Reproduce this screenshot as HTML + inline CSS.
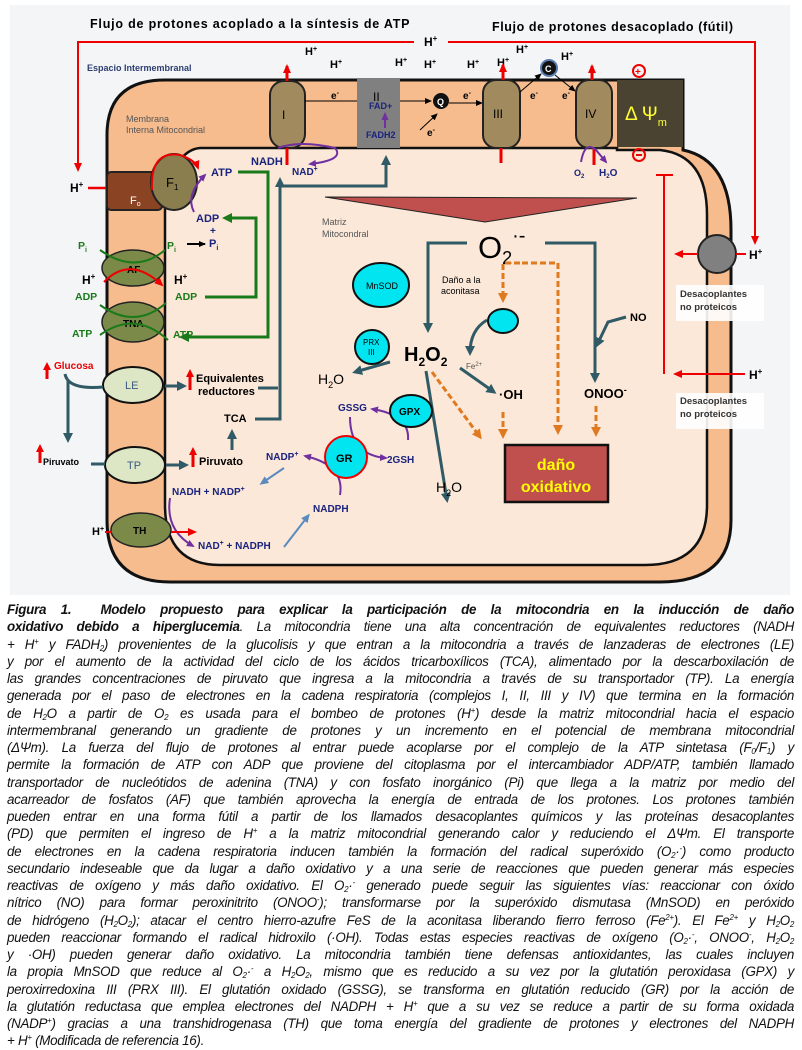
<!DOCTYPE html>
<html><head><meta charset="utf-8"><style>
html,body{margin:0;padding:0;background:#fff;width:802px;height:1042px;overflow:hidden}
svg{position:absolute;left:0;top:0}
svg text{font-family:"Liberation Sans",sans-serif}
.cap{position:absolute;left:7px;top:601px;width:787px;font-family:"Liberation Sans",sans-serif;font-size:13.4px;line-height:17.25px;font-style:italic;color:#111;letter-spacing:-0.3px}
.cap div{text-align:justify;text-align-last:justify;white-space:nowrap;height:17.25px}
.cap div.last{text-align-last:left}
.cap b{font-weight:bold}
sub{font-size:8px;vertical-align:-2px;line-height:0}
sup{font-size:8px;vertical-align:5px;line-height:0}
</style></head><body>
<svg width="802" height="598" viewBox="0 0 802 598">
<defs>
<marker id="ar" markerWidth="9" markerHeight="8" refX="7" refY="4" orient="auto" markerUnits="userSpaceOnUse"><path d="M0,0 L9,4 L0,8z" fill="#e00"/></marker>
<marker id="at" markerWidth="10" markerHeight="10" refX="7" refY="5" orient="auto" markerUnits="userSpaceOnUse"><path d="M0,0 L10,5 L0,10z" fill="#2f5a66"/></marker>
<marker id="ag" markerWidth="10" markerHeight="10" refX="7" refY="5" orient="auto" markerUnits="userSpaceOnUse"><path d="M0,0 L10,5 L0,10z" fill="#1a7a1a"/></marker>
<marker id="ap" markerWidth="8" markerHeight="7" refX="6" refY="3.5" orient="auto" markerUnits="userSpaceOnUse"><path d="M0,0 L8,3.5 L0,7z" fill="#7030a0"/></marker>
<marker id="ao" markerWidth="10" markerHeight="10" refX="7" refY="5" orient="auto" markerUnits="userSpaceOnUse"><path d="M0,0 L10,5 L0,10z" fill="#e07a20"/></marker>
<marker id="ab" markerWidth="9" markerHeight="8" refX="6" refY="4" orient="auto" markerUnits="userSpaceOnUse"><path d="M0,0 L9,4 L0,8z" fill="#5a8ac0"/></marker>
<marker id="ak" markerWidth="7" markerHeight="6" refX="6" refY="3" orient="auto" markerUnits="userSpaceOnUse"><path d="M0,0 L7,3 L0,6z" fill="#000"/></marker>
</defs>
<rect x="10" y="5" width="780" height="590" fill="#f4f5f7"/>
<path d="M107,135 Q107,80 165,80 L683,80 L683,150 Q731,160 731,230 L731,520 Q731,582 660,582 L170,582 Q107,582 107,520 Z" fill="#f6bc8e" stroke="#111" stroke-width="3"/>
<path d="M200,148 L617,148 L617,150 L660,150 Q707,155 707,215 L707,505 Q707,565 645,565 L220,565 Q165,565 165,505 L165,210 L165,200 Q175,150 200,148 Z" fill="#fbe8d8" stroke="#111" stroke-width="2.5"/>
<text x="90" y="28" font-size="12.5" font-weight="bold" letter-spacing="0.8">Flujo de protones acoplado a la síntesis de ATP</text>
<text x="492" y="31" font-size="12.5" font-weight="bold" letter-spacing="0.6">Flujo de protones desacoplado (fútil)</text>
<text x="87" y="71" font-size="9" font-weight="bold" fill="#2c3e70">Espacio Intermembranal</text>
<text x="126" y="122" font-size="9" fill="#555">Membrana</text>
<text x="126" y="133" font-size="9" fill="#555">Interna Mitocondrial</text>
<text x="322" y="225" font-size="9" fill="#555">Matriz</text>
<text x="322" y="237" font-size="9" fill="#555">Mitocondral</text>
<path d="M448,42 L755,42 L755,243" fill="none" stroke="#e00" stroke-width="2" marker-end="url(#ar)"/>
<path d="M414,42 L78,42 L78,170" fill="none" stroke="#e00" stroke-width="2" marker-end="url(#ar)"/>
<text x="424" y="46" font-size="12" font-weight="bold">H<tspan font-size="8" dy="-5">+</tspan></text>
<text x="70" y="192" font-size="12" font-weight="bold">H<tspan font-size="8" dy="-5">+</tspan></text>
<line x1="88" y1="188" x2="155" y2="188" stroke="#e00" stroke-width="2.5"/>
<g font-size="11" font-weight="bold">
<text x="305" y="55">H<tspan font-size="7" dy="-4">+</tspan></text>
<text x="330" y="68">H<tspan font-size="7" dy="-4">+</tspan></text>
<text x="395" y="66">H<tspan font-size="7" dy="-4">+</tspan></text>
<text x="424" y="68">H<tspan font-size="7" dy="-4">+</tspan></text>
<text x="467" y="68">H<tspan font-size="7" dy="-4">+</tspan></text>
<text x="497" y="66">H<tspan font-size="7" dy="-4">+</tspan></text>
<text x="516" y="53">H<tspan font-size="7" dy="-4">+</tspan></text>
<text x="561" y="60">H<tspan font-size="7" dy="-4">+</tspan></text>
</g>
<rect x="107" y="172" width="55" height="38" rx="4" fill="#8b4423" stroke="#222" stroke-width="2"/>
<text x="130" y="204" font-size="11" fill="#fff">F<tspan font-size="7" dy="2">o</tspan></text>
<ellipse cx="174" cy="182" rx="23" ry="28" fill="#8a7d4e" stroke="#222" stroke-width="2"/>
<text x="166" y="187" font-size="13">F<tspan font-size="8" dy="3">1</tspan></text>
<path d="M152,190 Q150,150 180,155 Q195,160 198,168" fill="none" stroke="#e00" stroke-width="2" marker-end="url(#ar)"/>
<path d="M194,212 Q185,195 205,175" fill="none" stroke="#7030a0" stroke-width="2" marker-end="url(#ap)"/>
<rect x="270" y="81" width="35" height="67" rx="14" fill="#a08a5e" stroke="#222" stroke-width="2"/>
<text x="282" y="119" font-size="12">I</text>
<rect x="357" y="78" width="43" height="70" fill="#808080"/>
<text x="373" y="101" font-size="12">II</text>
<text x="369" y="109" font-size="9" font-weight="bold" fill="#1a237e">FAD+</text>
<text x="366" y="138" font-size="9" font-weight="bold" fill="#1a237e">FADH2</text>
<line x1="385" y1="128" x2="385" y2="114" stroke="#7030a0" stroke-width="2" marker-end="url(#ap)"/>
<line x1="305" y1="101" x2="357" y2="101" stroke="#000" stroke-width="1"/>
<text x="331" y="99" font-size="10" font-weight="bold">e<tspan font-size="7" dy="-4">-</tspan></text>
<line x1="400" y1="101" x2="431" y2="101" stroke="#000" stroke-width="1" marker-end="url(#ak)"/>
<circle cx="441" cy="101" r="8" fill="#111"/><text x="437" y="105" font-size="9" font-weight="bold" fill="#fff">Q</text>
<line x1="420" y1="130" x2="437" y2="114" stroke="#000" stroke-width="1" marker-end="url(#ak)"/>
<text x="427" y="136" font-size="10" font-weight="bold">e<tspan font-size="7" dy="-4">-</tspan></text>
<line x1="449" y1="103" x2="482" y2="103" stroke="#000" stroke-width="1" marker-end="url(#ak)"/>
<text x="463" y="99" font-size="10" font-weight="bold">e<tspan font-size="7" dy="-4">-</tspan></text>
<rect x="483" y="80" width="37" height="68" rx="13" fill="#a08a5e" stroke="#222" stroke-width="2"/>
<text x="493" y="118" font-size="12">III</text>
<line x1="520" y1="92" x2="541" y2="74" stroke="#000" stroke-width="1" marker-end="url(#ak)"/>
<circle cx="549" cy="68" r="8" fill="#111" stroke="#5a7ab0" stroke-width="2"/><text x="545" y="72" font-size="9" font-weight="bold" fill="#fff">C</text>
<line x1="555" y1="75" x2="575" y2="91" stroke="#000" stroke-width="1" marker-end="url(#ak)"/>
<text x="530" y="99" font-size="10" font-weight="bold">e<tspan font-size="7" dy="-4">-</tspan></text>
<text x="562" y="99" font-size="10" font-weight="bold">e<tspan font-size="7" dy="-4">-</tspan></text>
<rect x="576" y="80" width="36" height="68" rx="13" fill="#a08a5e" stroke="#222" stroke-width="2"/>
<text x="585" y="118" font-size="12">IV</text>
<rect x="617" y="80" width="66" height="67" fill="#4a4331"/>
<text x="625" y="120" font-size="19" fill="#ffff33">Δ Ψ<tspan font-size="11" dy="6">m</tspan></text>
<circle cx="639" cy="71" r="6" fill="none" stroke="#e00" stroke-width="2"/><text x="635" y="75" font-size="10" font-weight="bold" fill="#e00">+</text>
<circle cx="639" cy="155" r="6" fill="none" stroke="#e00" stroke-width="2"/><line x1="636" y1="155" x2="642" y2="155" stroke="#e00" stroke-width="2"/>
<g stroke="#e00" stroke-width="3" fill="none">
<line x1="287" y1="81" x2="287" y2="66" marker-end="url(#ar)"/>
<line x1="503" y1="80" x2="503" y2="65" marker-end="url(#ar)"/>
<line x1="592" y1="80" x2="592" y2="66" marker-end="url(#ar)"/>
<line x1="287" y1="148" x2="287" y2="165"/>
<line x1="501" y1="148" x2="501" y2="163"/>
<line x1="594" y1="148" x2="594" y2="165"/>
</g>
<path d="M278,148 Q300,140 335,148 Q345,160 310,164" fill="none" stroke="#7030a0" stroke-width="2" marker-end="url(#ap)"/>
<text x="251" y="165" font-size="11" font-weight="bold" fill="#1a237e">NADH</text>
<text x="292" y="175" font-size="10" font-weight="bold" fill="#1a237e">NAD<tspan font-size="7" dy="-4">+</tspan></text>
<path d="M581,162 Q585,140 596,150 L606,162" fill="none" stroke="#7030a0" stroke-width="2" marker-end="url(#ap)"/>
<text x="574" y="176" font-size="9" font-weight="bold" fill="#1a237e">O<tspan font-size="6" dy="2">2</tspan></text>
<text x="599" y="176" font-size="10" font-weight="bold" fill="#1a237e">H<tspan font-size="6" dy="2">2</tspan><tspan dy="-2">O</tspan></text>
<text x="211" y="176" font-size="11" font-weight="bold" fill="#1a237e">ATP</text>
<text x="196" y="222" font-size="11" font-weight="bold" fill="#1a237e">ADP</text>
<text x="210" y="234" font-size="10" font-weight="bold" fill="#1a237e">+</text>
<text x="209" y="247" font-size="11" font-weight="bold" fill="#1a237e">P<tspan font-size="7" dy="3">i</tspan></text>
<line x1="187" y1="244" x2="205" y2="244" stroke="#000" stroke-width="2" marker-end="url(#ak)"/>
<g fill="none" stroke="#1a7a1a" stroke-width="3">
<path d="M238,172 L268,172 L268,337 L182,337" marker-end="url(#ag)"/>
<path d="M205,297 L256,297 L256,218 L225,218" marker-end="url(#ag)"/>
</g>
<g font-size="10.5" font-weight="bold" fill="#1a7a1a">
<text x="78" y="249">P<tspan font-size="7" dy="3">i</tspan></text>
<text x="167" y="249">P<tspan font-size="7" dy="3">i</tspan></text>
<text x="75" y="300">ADP</text>
<text x="175" y="300">ADP</text>
<text x="72" y="337">ATP</text>
<text x="173" y="338">ATP</text>
</g>
<text x="82" y="284" font-size="12" font-weight="bold">H<tspan font-size="8" dy="-5">+</tspan></text>
<text x="174" y="284" font-size="12" font-weight="bold">H<tspan font-size="8" dy="-5">+</tspan></text>
<ellipse cx="133" cy="268" rx="31" ry="18" fill="#7b8a48" stroke="#222" stroke-width="1.5"/>
<text x="127" y="273" font-size="10" font-weight="bold">AF</text>
<ellipse cx="133" cy="322" rx="31" ry="20" fill="#7b8a48" stroke="#222" stroke-width="1.5"/>
<text x="123" y="327" font-size="10" font-weight="bold">TNA</text>
<g fill="none" stroke="#1a7a1a" stroke-width="2">
<path d="M100,250 Q135,275 165,250"/>
<path d="M100,305 Q135,330 166,303"/>
<path d="M100,335 Q135,310 168,340"/>
</g>
<path d="M104,282 Q130,255 162,285" fill="none" stroke="#e00" stroke-width="2" marker-end="url(#ar)"/>
<ellipse cx="133" cy="385" rx="30" ry="18" fill="#dde7c6" stroke="#111" stroke-width="2"/>
<text x="125" y="389" font-size="11" fill="#3a5a80">LE</text>
<ellipse cx="135" cy="465" rx="30" ry="18" fill="#dde7c6" stroke="#111" stroke-width="2"/>
<text x="127" y="469" font-size="11" fill="#3a5a80">TP</text>
<ellipse cx="141" cy="530" rx="30" ry="17" fill="#7b8a48" stroke="#222" stroke-width="1.5"/>
<text x="133" y="534" font-size="10" font-weight="bold">TH</text>
<g fill="#e00"><path d="M43,370 L47,362 L51,370 Z"/><rect x="45.5" y="369" width="3" height="10"/>
<path d="M36,452 L40,444 L44,452 Z"/><rect x="38.5" y="451" width="3" height="12"/>
<path d="M186,377 L190,369 L194,377 Z"/><rect x="188.5" y="376" width="3" height="14"/>
<path d="M189,455 L193,447 L197,455 Z"/><rect x="191.5" y="454" width="3" height="13"/></g>
<text x="54" y="369" font-size="10" font-weight="bold" fill="#e00">Glucosa</text>
<text x="43" y="465" font-size="9" font-weight="bold">Piruvato</text>
<text x="196" y="382" font-size="11" font-weight="bold">Equivalentes</text>
<text x="198" y="395" font-size="11" font-weight="bold">reductores</text>
<text x="199" y="465" font-size="11" font-weight="bold">Piruvato</text>
<text x="224" y="422" font-size="11" font-weight="bold">TCA</text>
<g fill="none" stroke="#2f5a66" stroke-width="3">
<path d="M65,374 Q68,390 103,387"/>
<path d="M68,380 L68,440" marker-end="url(#at)"/>
<line x1="91" y1="464" x2="105" y2="464"/>
<line x1="165" y1="386" x2="184" y2="386" marker-end="url(#at)"/>
<line x1="166" y1="465" x2="186" y2="465" marker-end="url(#at)"/>
<line x1="232" y1="450" x2="232" y2="432" marker-end="url(#at)"/>
<path d="M258,388 L278,388"/>
<path d="M255,419 L280,419 L280,180" marker-end="url(#at)"/>
<path d="M280,186 L386,186 L386,158" marker-end="url(#at)"/>
</g>
<path d="M325,197 L637,198 L485,222 Z" fill="#c0504d" stroke="#222" stroke-width="1"/>
<text x="478" y="258" font-size="31">O<tspan font-size="18" dy="6">2</tspan><tspan font-size="20" dy="-22">·-</tspan></text>
<g fill="none" stroke="#2f5a66" stroke-width="3">
<path d="M467,243 L428,243 L428,330" marker-end="url(#at)"/>
<path d="M545,243 L595,243 L595,380" marker-end="url(#at)"/>
<path d="M626,317 L608,322 L597,345" marker-end="url(#at)"/>
<path d="M487,320 Q470,330 470,353" marker-end="url(#at)"/>
<path d="M460,368 L494,392" marker-end="url(#at)"/>
<path d="M390,362 L355,372" marker-end="url(#at)"/>
<path d="M426,371 L447,500" marker-end="url(#at)"/>
</g>
<g fill="none" stroke="#e07a20" stroke-width="3" stroke-dasharray="6,3">
<path d="M522,263 L558,263 L558,432" marker-end="url(#ao)"/>
<path d="M520,263 L503,263 L503,300" marker-end="url(#ao)"/>
<line x1="503" y1="412" x2="503" y2="436" marker-end="url(#ao)"/>
<line x1="596" y1="406" x2="596" y2="434" marker-end="url(#ao)"/>
<line x1="432" y1="372" x2="480" y2="437" marker-end="url(#ao)"/>
</g>
<text x="442" y="283" font-size="9">Daño a la</text>
<text x="441" y="294" font-size="9">aconitasa</text>
<text x="630" y="321" font-size="11" font-weight="bold">NO</text>
<ellipse cx="503" cy="321" rx="15" ry="12" fill="#00e5f0" stroke="#111" stroke-width="2"/>
<text x="466" y="369" font-size="8" fill="#555">Fe<tspan font-size="6" dy="-3">2+</tspan></text>
<text x="499" y="399" font-size="13" font-weight="bold">·OH</text>
<text x="584" y="398" font-size="13" font-weight="bold">ONOO<tspan font-size="9" dy="-5">-</tspan></text>
<text x="404" y="361" font-size="20" font-weight="bold">H<tspan font-size="12" dy="5">2</tspan><tspan dy="-5">O</tspan><tspan font-size="12" dy="5">2</tspan></text>
<text x="318" y="384" font-size="14">H<tspan font-size="9" dy="4">2</tspan><tspan dy="-4">O</tspan></text>
<text x="436" y="492" font-size="14">H<tspan font-size="9" dy="4">2</tspan><tspan dy="-4">O</tspan></text>
<rect x="505" y="445" width="103" height="57" fill="#c0504d" stroke="#111" stroke-width="2.5"/>
<text x="556" y="470" font-size="16" font-weight="bold" fill="#ffff00" text-anchor="middle">daño</text>
<text x="556" y="492" font-size="16" font-weight="bold" fill="#ffff00" text-anchor="middle">oxidativo</text>
<ellipse cx="381" cy="285" rx="28" ry="22" fill="#00e5f0" stroke="#111" stroke-width="2"/>
<text x="366" y="289" font-size="9">MnSOD</text>
<circle cx="372" cy="347" r="17" fill="#00e5f0" stroke="#111" stroke-width="2"/>
<text x="363" y="345" font-size="8">PRX</text><text x="368" y="355" font-size="8">III</text>
<path d="M408,440 Q410,415 372,409" fill="none" stroke="#7030a0" stroke-width="2" marker-end="url(#ap)"/>
<ellipse cx="411" cy="411" rx="21" ry="16" fill="#00e5f0" stroke="#111" stroke-width="2"/>
<text x="399" y="415" font-size="10" font-weight="bold">GPX</text>
<path d="M350,417 Q350,455 386,458" fill="none" stroke="#7030a0" stroke-width="2" marker-end="url(#ap)"/>
<path d="M340,495 Q345,465 305,456" fill="none" stroke="#7030a0" stroke-width="2" marker-end="url(#ap)"/>
<circle cx="346" cy="457" r="21" fill="#00e5f0" stroke="#e00" stroke-width="2"/>
<text x="336" y="462" font-size="11" font-weight="bold">GR</text>
<g font-size="10" font-weight="bold" fill="#1a237e">
<text x="338" y="411">GSSG</text>
<text x="387" y="463">2GSH</text>
<text x="266" y="460">NADP<tspan font-size="7" dy="-4">+</tspan></text>
<text x="313" y="512">NADPH</text>
<text x="172" y="495">NADH + NADP<tspan font-size="7" dy="-4">+</tspan></text>
<text x="198" y="549">NAD<tspan font-size="7" dy="-4">+</tspan><tspan dy="4"> + NADPH</tspan></text>
</g>
<line x1="284" y1="468" x2="262" y2="483" stroke="#5a8ac0" stroke-width="2" marker-end="url(#ab)"/>
<line x1="284" y1="547" x2="308" y2="516" stroke="#5a8ac0" stroke-width="2" marker-end="url(#ab)"/>
<path d="M170,498 Q165,530 193,546" fill="none" stroke="#7030a0" stroke-width="2" marker-end="url(#ap)"/>
<line x1="105" y1="532" x2="112" y2="532" stroke="#e00" stroke-width="2"/>
<line x1="171" y1="532" x2="195" y2="532" stroke="#e00" stroke-width="2" marker-end="url(#ar)"/>
<text x="92" y="535" font-size="11" font-weight="bold">H<tspan font-size="7" dy="-4">+</tspan></text>
<circle cx="717" cy="254" r="19" fill="#808080" stroke="#222" stroke-width="2"/>
<line x1="698" y1="254" x2="676" y2="254" stroke="#e00" stroke-width="2" marker-end="url(#ar)"/>
<line x1="736" y1="254" x2="746" y2="254" stroke="#e00" stroke-width="2"/>
<text x="749" y="259" font-size="12" font-weight="bold">H<tspan font-size="8" dy="-5">+</tspan></text>
<path d="M656,175 L673,175 M664,175 L664,374" stroke="#e00" stroke-width="2" fill="none"/>
<line x1="745" y1="374" x2="675" y2="374" stroke="#e00" stroke-width="2" marker-end="url(#ar)"/>
<text x="749" y="379" font-size="12" font-weight="bold">H<tspan font-size="8" dy="-5">+</tspan></text>
<rect x="676" y="285" width="88" height="36" fill="#fff" opacity="0.9"/>
<text x="680" y="297" font-size="9.5" font-weight="bold" fill="#333">Desacoplantes</text>
<text x="680" y="310" font-size="9.5" font-weight="bold" fill="#333">no proteicos</text>
<rect x="676" y="393" width="88" height="36" fill="#fff" opacity="0.9"/>
<text x="680" y="404" font-size="9.5" font-weight="bold" fill="#333">Desacoplantes</text>
<text x="680" y="417" font-size="9.5" font-weight="bold" fill="#333">no proteicos</text>
</svg>
<div class="cap">
<div><b>Figura 1.</b> &nbsp;<b>Modelo propuesto para explicar la participación de la mitocondria en la inducción de daño</b></div>
<div><b>oxidativo debido a hiperglucemia</b>. La mitocondria tiene una alta concentración de equivalentes reductores (NADH</div>
<div>+ H<sup>+</sup> y FADH<sub>2</sub>) provenientes de la glucolisis y que entran a la mitocondria a través de lanzaderas de electrones (LE)</div>
<div>y por el aumento de la actividad del ciclo de los ácidos tricarboxílicos (TCA), alimentado por la descarboxilación de</div>
<div>las grandes concentraciones de piruvato que ingresa a la mitocondria a través de su transportador (TP). La energía</div>
<div>generada por el paso de electrones en la cadena respiratoria (complejos I, II, III y IV) que termina en la formación</div>
<div>de H<sub>2</sub>O a partir de O<sub>2</sub> es usada para el bombeo de protones (H<sup>+</sup>) desde la matriz mitocondrial hacia el espacio</div>
<div>intermembranal generando un gradiente de protones y un incremento en el potencial de membrana mitocondrial</div>
<div>(ΔΨm). La fuerza del flujo de protones al entrar puede acoplarse por el complejo de la ATP sintetasa (F<sub>0</sub>/F<sub>1</sub>) y</div>
<div>permite la formación de ATP con ADP que proviene del citoplasma por el intercambiador ADP/ATP, también llamado</div>
<div>transportador de nucleótidos de adenina (TNA) y con fosfato inorgánico (Pi) que llega a la matriz por medio del</div>
<div>acarreador de fosfatos (AF) que también aprovecha la energía de entrada de los protones. Los protones también</div>
<div>pueden entrar en una forma fútil a partir de los llamados desacoplantes químicos y las proteínas desacoplantes</div>
<div>(PD) que permiten el ingreso de H<sup>+</sup> a la matriz mitocondrial generando calor y reduciendo el ΔΨm. El transporte</div>
<div>de electrones en la cadena respiratoria inducen también la formación del radical superóxido (O<sub>2</sub>·<sup>-</sup>) como producto</div>
<div>secundario indeseable que da lugar a daño oxidativo y a una serie de reacciones que pueden generar más especies</div>
<div>reactivas de oxígeno y más daño oxidativo. El O<sub>2</sub>·<sup>-</sup> generado puede seguir las siguientes vías: reaccionar con óxido</div>
<div>nítrico (NO) para formar peroxinitrito (ONOO<sup>-</sup>); transformarse por la superóxido dismutasa (MnSOD) en peróxido</div>
<div>de hidrógeno (H<sub>2</sub>O<sub>2</sub>); atacar el centro hierro-azufre FeS de la aconitasa liberando fierro ferroso (Fe<sup>2+</sup>). El Fe<sup>2+</sup> y H<sub>2</sub>O<sub>2</sub></div>
<div>pueden reaccionar formando el radical hidroxilo (·OH). Todas estas especies reactivas de oxígeno (O<sub>2</sub>·<sup>-</sup>, ONOO<sup>-</sup>, H<sub>2</sub>O<sub>2</sub></div>
<div>y ·OH) pueden generar daño oxidativo. La mitocondria también tiene defensas antioxidantes, las cuales incluyen</div>
<div>la propia MnSOD que reduce al O<sub>2</sub>·<sup>-</sup> a H<sub>2</sub>O<sub>2</sub>, mismo que es reducido a su vez por la glutatión peroxidasa (GPX) y</div>
<div>peroxirredoxina III (PRX III). El glutatión oxidado (GSSG), se transforma en glutatión reducido (GR) por la acción de</div>
<div>la glutatión reductasa que emplea electrones del NADPH + H<sup>+</sup> que a su vez se reduce a partir de su forma oxidada</div>
<div>(NADP<sup>+</sup>) gracias a una transhidrogenasa (TH) que toma energía del gradiente de protones y electrones del NADPH</div>
<div class="last">+ H<sup>+</sup> (Modificada de referencia 16).</div>
</div>
</body></html>
